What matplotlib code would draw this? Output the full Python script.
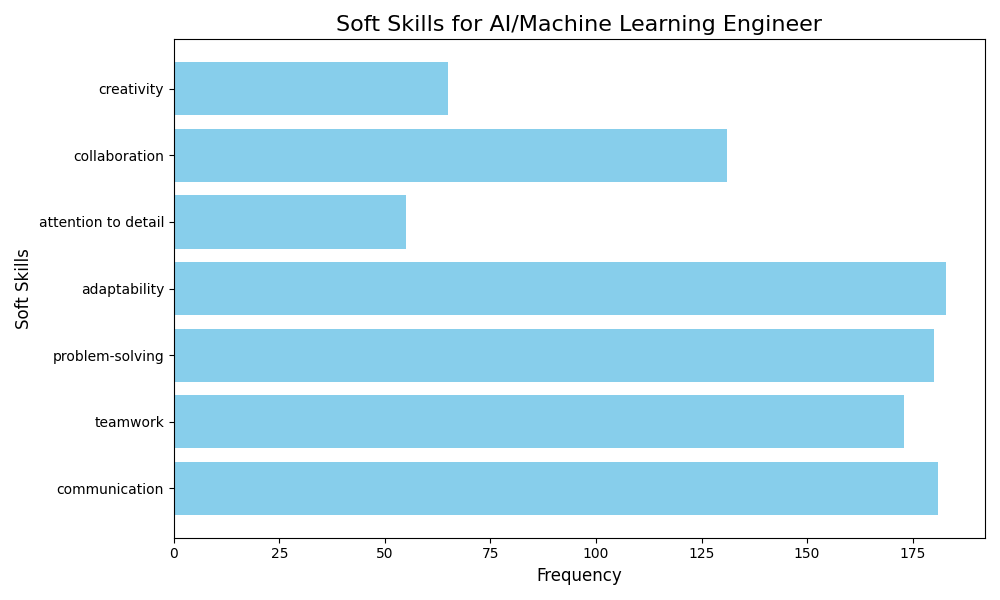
import matplotlib.pyplot as plt

skills = ["communication", "teamwork", "problem-solving", "adaptability",
          "attention to detail", "collaboration", "creativity"]
counts = [181, 173, 180, 183, 55, 131, 65]

fig, ax = plt.subplots(figsize=(10, 6), dpi=100)
ax.barh(skills, counts, color="skyblue")
ax.set_title("Soft Skills for AI/Machine Learning Engineer", fontsize=16)
ax.set_xlabel("Frequency", fontsize=12)
ax.set_ylabel("Soft Skills", fontsize=12)
plt.tight_layout()
fig.savefig("out.png")
plt.close()
